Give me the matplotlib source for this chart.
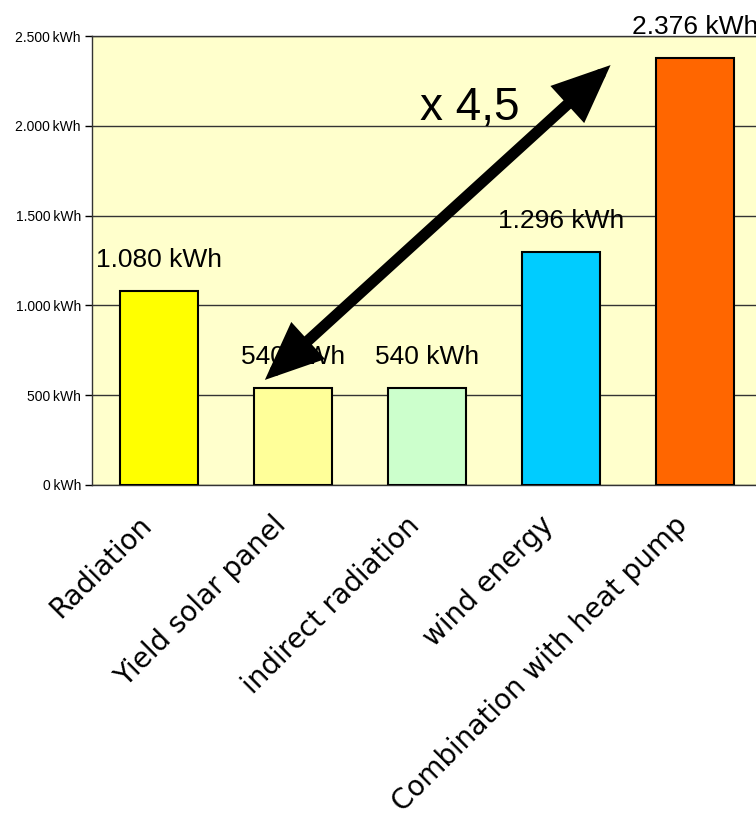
import matplotlib
matplotlib.use("Agg")
import matplotlib.pyplot as plt
from matplotlib.ticker import FuncFormatter
from matplotlib.transforms import ScaledTranslation

plt.rcParams['font.family'] = ['Liberation Sans', 'DejaVu Sans']

categories = ["Radiation", "Yield solar panel", "indirect radiation", "wind energy", "Combination with heat pump"]
values = [1080, 540, 540, 1296, 2376]
value_labels = ["1.080 kWh", "540 kWh", "540 kWh", "1.296 kWh", "2.376 kWh"]
colors = ["#FFFF00", "#FFFF99", "#CCFFCC", "#00CCFF", "#FF6600"]
yticks = [0, 500, 1000, 1500, 2000, 2500]

fig = plt.figure(figsize=(7.56, 8.15), dpi=100)
ax = fig.add_axes([92/756, 1-485/815, 670/756, 449/815])
ax.set_facecolor("#FFFFCC")

x = list(range(len(categories)))
ax.bar(x, values, width=0.58, color=colors, edgecolor="black", linewidth=1.5, zorder=3)

ax.set_xlim(-0.5, 4.5)
ax.set_ylim(0, 2500)
ax.set_yticks(yticks)
ax.yaxis.set_major_formatter(FuncFormatter(
    lambda v, p: (f"{int(v):,}".replace(",", ".") if v else "0") + "\u2009kWh"))
ax.tick_params(axis='y', labelsize=10, length=5, width=1, direction='out', pad=3)
ax.grid(axis='y', color='#333333', linewidth=1, zorder=1)
ax.set_xticks(x)
ax.set_xticklabels(categories, rotation=45, ha='right', va='baseline',
                   rotation_mode='anchor', fontsize=20, family='DejaVu Sans')
ax.tick_params(axis='x', length=0, pad=30)
shift = ScaledTranslation(-6/100, 0, fig.dpi_scale_trans)
for lbl in ax.get_xticklabels():
    lbl.set_transform(lbl.get_transform() + shift)
for s in ax.spines.values():
    s.set_color('#333333')
    s.set_linewidth(1)

for xi, v, lab in zip(x, values, value_labels):
    ax.annotate(lab, (xi, v), xytext=(0, 24), textcoords='offset pixels',
                ha='center', va='baseline', fontsize=19, zorder=5, annotation_clip=False)

ax.annotate("", xy=(3.37, 2338), xytext=(0.79, 585),
            arrowprops=dict(arrowstyle='<|-|>,head_length=2.8,head_width=1.2', color='black',
                            lw=8, shrinkA=0, shrinkB=0, joinstyle='miter'),
            zorder=6)
ax.text(2.32, 2032, "x 4,5", ha='center', va='baseline', fontsize=33, zorder=6)

fig.savefig("out.png", dpi=100)
